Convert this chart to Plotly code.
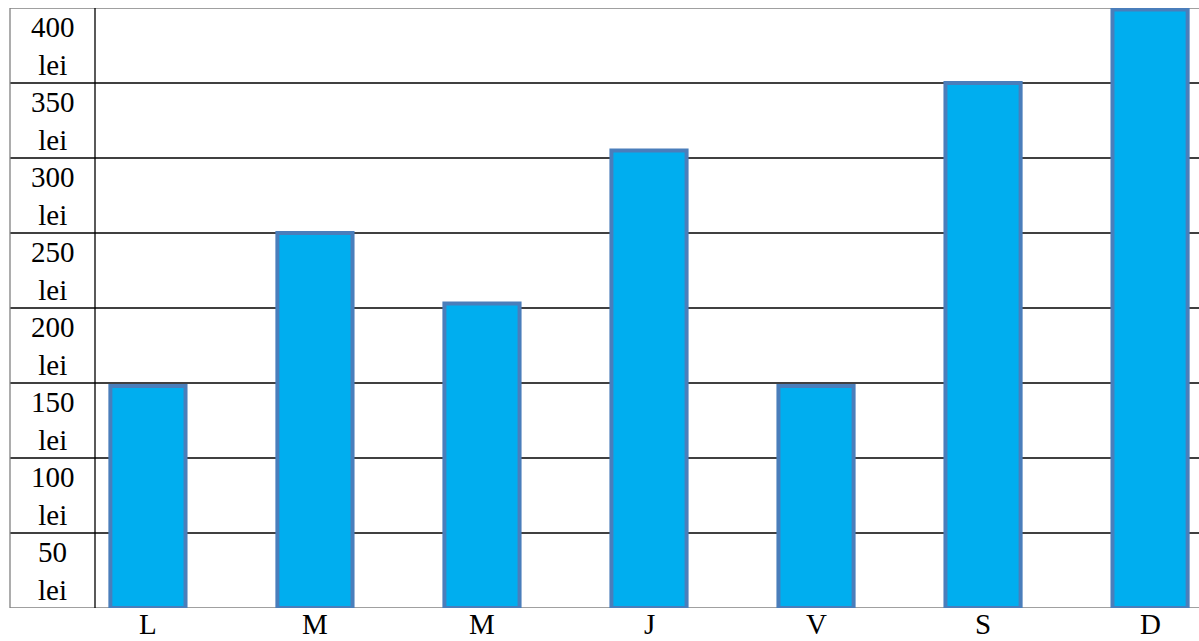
import plotly.graph_objects as go

# ---- data ----
days = ["Luni", "Marți", "Miercuri", "Joi", "Vineri", "Sâmbătă", "Duminică"]
day_labels = ["L", "M", "M", "J", "V", "S", "D"]
amounts = [148, 250, 203, 305, 148, 350, 399]
tick_values = [50, 100, 150, 200, 250, 300, 350, 400]
tick_labels = [f"{v}<br>lei" for v in tick_values]

FILL = "#00AEEF"
EDGE = "#4A7EBB"
FONT = "Liberation Serif, Times New Roman, serif"

W, H = 1199, 641
ML, MR, MT, MB = 95, 0, 8, 33
plot_w = W - ML - MR
left_border = (10 - ML) / plot_w   # paper x of the table's left border
label_x = (left_border + 0) / 2

fig = go.Figure(
    go.Bar(
        x=days,
        y=amounts,
        width=0.45,
        marker=dict(color=FILL, line=dict(color=EDGE, width=4)),
        hoverinfo="x+y",
    )
)

shapes = []
step = tick_values[1] - tick_values[0]
levels = [0] + tick_values
for v in levels:
    edge = v in (levels[0], levels[-1])
    shapes.append(dict(
        type="line", xref="paper", yref="y",
        x0=left_border, x1=1, y0=v, y1=v,
        line=dict(color="#808080" if edge else "#000000", width=1.3),
        layer="below",
    ))
# left border and column divider
shapes.append(dict(type="line", xref="paper", yref="y", x0=left_border, x1=left_border,
                   y0=levels[0], y1=levels[-1], line=dict(color="#808080", width=1.3), layer="below"))
shapes.append(dict(type="line", xref="paper", yref="y", x0=0, x1=0,
                   y0=levels[0], y1=levels[-1], line=dict(color="#000000", width=1.3), layer="below"))

annotations = [
    dict(xref="paper", yref="y", x=label_x, y=v - step / 2, text=t, showarrow=False,
         xanchor="center", yanchor="middle",
         font=dict(family=FONT, size=29, color="#000000"))
    for v, t in zip(tick_values, tick_labels)
]
# day labels under the bars
annotations += [
    dict(xref="x", yref="paper", x=d, y=0, yshift=-16, text=lab, showarrow=False,
         xanchor="center", yanchor="middle",
         font=dict(family=FONT, size=29, color="#000000"))
    for d, lab in zip(days, day_labels)
]

fig.update_layout(
    width=W, height=H,
    margin=dict(l=ML, r=MR, t=MT, b=MB, pad=0, autoexpand=False),
    paper_bgcolor="white", plot_bgcolor="white",
    showlegend=False,
    shapes=shapes,
    annotations=annotations,
    xaxis=dict(
        type="category",
        range=[-0.317, 6.293],
        showticklabels=False,
        showgrid=False, zeroline=False, showline=False, ticks="",
        automargin=False,
    ),
    yaxis=dict(
        range=[0, 400],
        showgrid=False, zeroline=False, showline=False,
        showticklabels=False, ticks="", automargin=False,
    ),
)

fig.write_html(
    "out.html",
    config={"displayModeBar": False},
    post_script="document.body.style.margin='0';document.body.style.overflow='hidden';",
)
